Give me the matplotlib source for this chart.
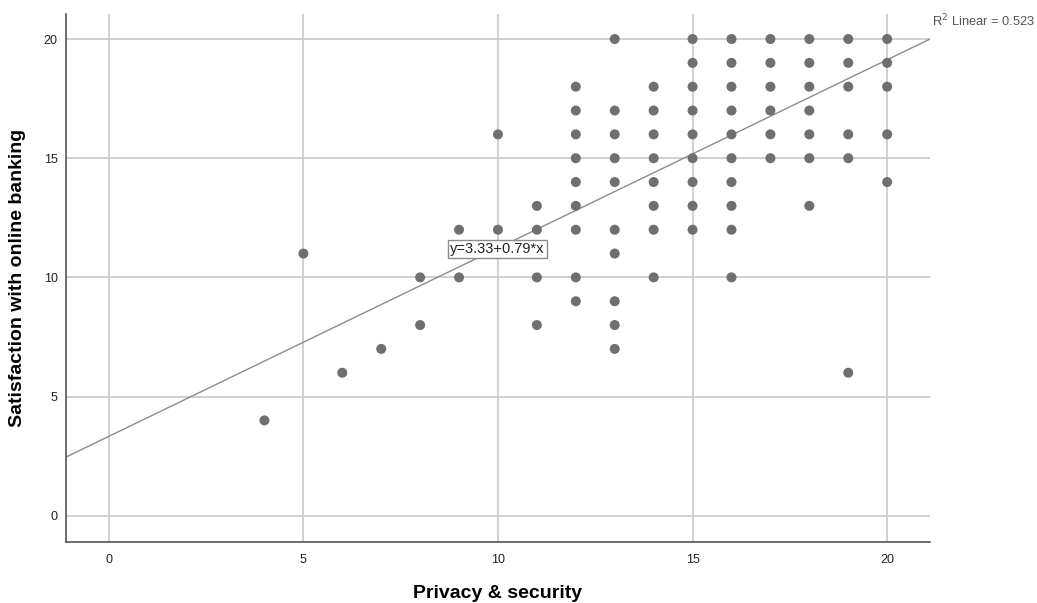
import numpy as np
import matplotlib.pyplot as plt

plt.rcParams['font.family'] = ['Liberation Sans', 'DejaVu Sans']

# Data (one entry per visible point)
privacy = [4, 5, 6, 7, 8, 8, 9, 9, 10, 10,
           11, 11, 11, 11,
           12, 12, 12, 12, 12, 12, 12, 12, 12,
           13, 13, 13, 13, 13, 13, 13, 13, 13, 13,
           14, 14, 14, 14, 14, 14, 14, 14,
           15, 15, 15, 15, 15, 15, 15, 15, 15,
           16, 16, 16, 16, 16, 16, 16, 16, 16, 16,
           17, 17, 17, 17, 17, 17,
           18, 18, 18, 18, 18, 18, 18,
           19, 19, 19, 19, 19, 19,
           20, 20, 20, 20, 20]
satisfaction = [4, 11, 6, 7, 10, 8, 12, 10, 16, 12,
                13, 12, 10, 8,
                18, 17, 16, 15, 14, 13, 12, 10, 9,
                20, 17, 16, 15, 14, 12, 11, 9, 8, 7,
                18, 17, 16, 15, 14, 13, 12, 10,
                20, 19, 18, 17, 16, 15, 14, 13, 12,
                20, 19, 18, 17, 16, 15, 14, 13, 12, 10,
                20, 19, 18, 17, 16, 15,
                20, 19, 18, 17, 16, 15, 13,
                20, 19, 18, 16, 15, 6,
                20, 19, 18, 16, 14]
intercept = 3.33
slope = 0.79
r2 = 0.523
ticks = [0, 5, 10, 15, 20]

fig = plt.figure(figsize=(10.37, 6.03), dpi=100)
ax = fig.add_axes([0.0636, 0.1012, 0.8332, 0.8756])

ax.set_xlim(-1.1, 21.1)
ax.set_ylim(-1.1, 21.05)

# grid
for t in ticks:
    ax.axvline(t, color='#c8c8c8', lw=1.2, zorder=1)
    ax.axhline(t, color='#c8c8c8', lw=1.2, zorder=1)

# fit line
xl = np.array(ax.get_xlim())
ax.plot(xl, intercept + slope * xl, color='#8c8c8c', lw=1.0, zorder=2)

ax.scatter(privacy, satisfaction, s=52, color='#6f6f6f', edgecolors='none', zorder=3)

ax.text(9.98, 11.2, 'y=3.33+0.79*x', fontsize=10.5, color='#222222',
        ha='center', va='center', zorder=4,
        bbox=dict(boxstyle='square,pad=0.15', fc='white', ec='#8c8c8c', lw=1))

ax.text(1.002, 20.75, 'R$^2$ Linear = %.3f' % r2,
        transform=ax.get_yaxis_transform(), fontsize=9.3, color='#555555',
        ha='left', va='center')

ax.set_xticks(ticks)
ax.set_yticks(ticks)
ax.tick_params(length=0, labelsize=9, colors='#222222')
ax.tick_params(axis='x', pad=9)
ax.tick_params(axis='y', pad=6)
for side in ['top', 'right']:
    ax.spines[side].set_visible(False)
for side in ['left', 'bottom']:
    ax.spines[side].set_color('#555555')
    ax.spines[side].set_linewidth(1.2)

fig.text(0.4797, 0.015, 'Privacy & security', fontsize=14, fontweight='bold',
         ha='center', va='center')
fig.text(0.017, 0.539, 'Satisfaction with online banking', fontsize=14,
         fontweight='bold', rotation=90, ha='center', va='center')

fig.savefig('out.png', dpi=100)
